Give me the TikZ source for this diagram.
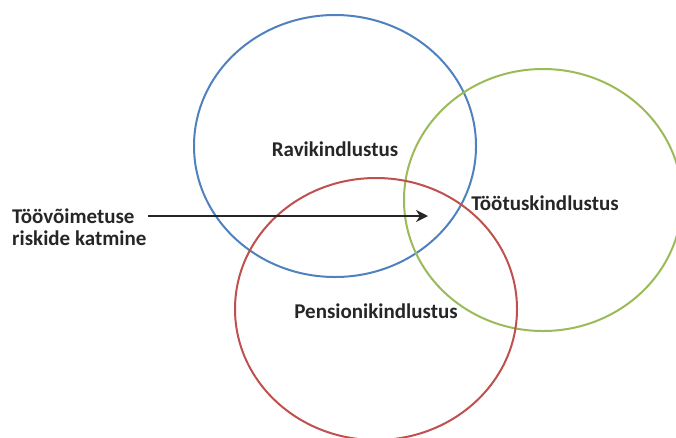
\documentclass[tikz,border=0pt]{standalone}
\usepackage{fontspec}
\setmainfont{Carlito}
\usetikzlibrary{arrows.meta}
\definecolor{cblue}{RGB}{79,129,189}
\definecolor{cred}{RGB}{192,80,77}
\definecolor{cgreen}{RGB}{155,187,89}
\begin{document}
\begin{tikzpicture}[x=1pt,y=-1pt,
  ring/.style={draw=#1,line width=2pt},
  lbl/.style={font=\bfseries\fontsize{21}{22}\selectfont,text=black!85,inner sep=0pt},
  arr/.style={-{Stealth[length=12pt,width=12pt]},line width=2.6pt,black!85}]
\useasboundingbox (0,0) rectangle (676,437);
\clip (0,0) rectangle (676,437);
\draw[ring=cblue] (335,146) ellipse [x radius=141,y radius=131];
\draw[ring=cgreen] (543,200) ellipse [x radius=139,y radius=131];
\draw[ring=cred] (376,309) ellipse [x radius=141,y radius=131];
\node[lbl] (rav) at (335,149) {Ravikindlustus};
\node[lbl] (too) at (545,203) {Töötuskindlustus};
\node[lbl] (pen) at (376,311) {Pensionikindlustus};
\node[lbl,anchor=west,align=left] (risk) at (12,227) {Töövõimetuse\\riskide katmine};
\coordinate (tip) at (428,216);
\draw[arr] (148,216) -- (tip);
\end{tikzpicture}
\end{document}
